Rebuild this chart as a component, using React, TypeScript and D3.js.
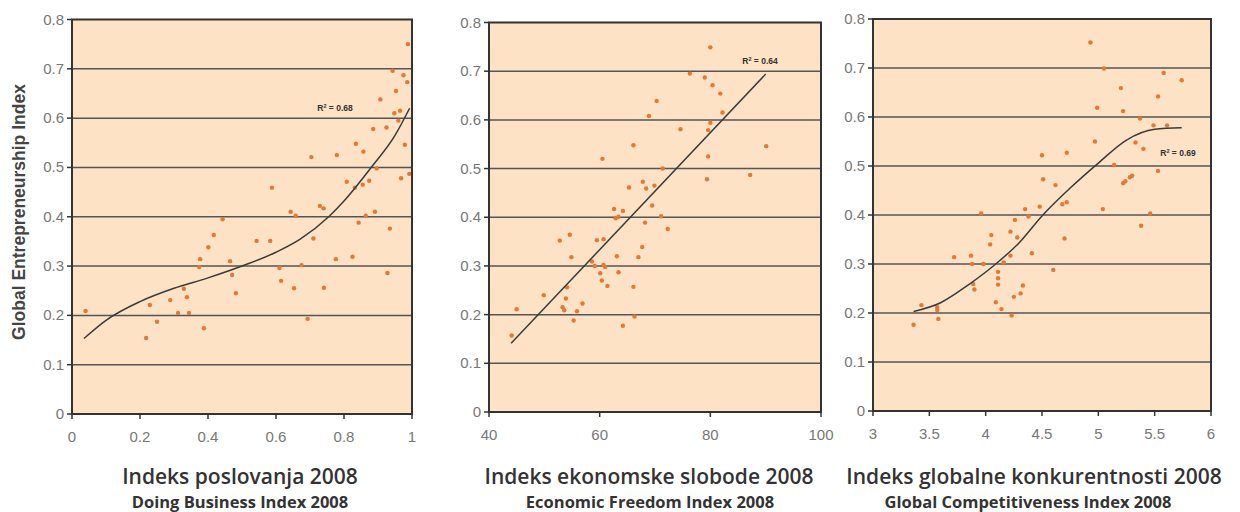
import React from "react";
import * as d3 from "d3";

// ---------- DATA ----------
const yTicks = [0, 0.1, 0.2, 0.3, 0.4, 0.5, 0.6, 0.7, 0.8];

const dbTicks = [0, 0.2, 0.4, 0.6, 0.8, 1];
const dbPoints: [number, number][] = [
  [0.988, 0.75], [0.943, 0.696], [0.975, 0.687], [0.953, 0.655], [0.986, 0.673],
  [0.907, 0.638], [0.965, 0.615], [0.948, 0.61], [0.96, 0.595], [0.886, 0.578],
  [0.925, 0.581], [0.979, 0.546], [0.835, 0.548], [0.857, 0.532], [0.779, 0.525],
  [0.704, 0.521], [0.896, 0.498], [0.968, 0.478], [0.992, 0.487], [0.808, 0.471],
  [0.874, 0.473], [0.832, 0.459], [0.855, 0.465], [0.588, 0.459], [0.729, 0.422],
  [0.74, 0.417], [0.643, 0.41], [0.658, 0.402], [0.891, 0.41], [0.864, 0.402],
  [0.843, 0.388], [0.935, 0.376], [0.443, 0.395], [0.417, 0.363], [0.401, 0.338],
  [0.543, 0.351], [0.583, 0.351], [0.71, 0.356], [0.04, 0.209], [0.218, 0.154],
  [0.229, 0.221], [0.25, 0.187], [0.289, 0.231], [0.312, 0.205], [0.329, 0.254],
  [0.338, 0.237], [0.344, 0.205], [0.374, 0.298], [0.377, 0.314], [0.388, 0.174],
  [0.465, 0.31], [0.471, 0.282], [0.482, 0.245], [0.61, 0.296], [0.615, 0.27],
  [0.653, 0.255], [0.675, 0.302], [0.693, 0.193], [0.741, 0.256], [0.776, 0.314],
  [0.825, 0.319], [0.928, 0.286],
];
const dbTrend: [number, number][] = [
  [0.035, 0.153], [0.1, 0.19], [0.2, 0.228], [0.3, 0.255], [0.4, 0.276],
  [0.5, 0.3], [0.6, 0.328], [0.67, 0.354], [0.755, 0.4], [0.8, 0.432],
  [0.88, 0.5], [0.95, 0.565], [0.993, 0.62],
];

const efTicks = [40, 60, 80, 100];
const efPoints: [number, number][] = [
  [80.0, 0.749], [76.3, 0.695], [79.0, 0.687], [80.4, 0.671], [81.8, 0.654],
  [82.2, 0.615], [70.3, 0.639], [68.9, 0.608], [80.0, 0.594], [79.6, 0.579],
  [74.6, 0.581], [66.1, 0.548], [90.1, 0.546], [60.5, 0.52], [79.6, 0.525],
  [71.4, 0.5], [79.4, 0.478], [87.2, 0.487], [65.3, 0.461], [67.8, 0.473],
  [68.4, 0.459], [69.9, 0.465], [69.5, 0.424], [62.6, 0.417], [64.2, 0.413],
  [62.9, 0.398], [63.4, 0.401], [71.1, 0.402], [68.2, 0.389], [72.3, 0.376],
  [52.8, 0.352], [54.6, 0.364], [59.5, 0.353], [60.7, 0.355], [67.7, 0.339],
  [63.1, 0.32], [67.0, 0.318], [54.9, 0.318], [58.6, 0.309], [59.1, 0.3],
  [60.1, 0.285], [60.4, 0.27], [60.7, 0.302], [61.0, 0.298], [61.4, 0.259],
  [63.4, 0.287], [66.1, 0.257], [66.3, 0.196], [64.2, 0.177], [56.9, 0.223],
  [55.9, 0.207], [55.3, 0.188], [53.9, 0.233], [54.1, 0.256], [53.3, 0.215],
  [53.6, 0.209], [49.9, 0.24], [45.0, 0.211], [44.1, 0.157],
];
const efTrend: [number, number][] = [[44.0, 0.141], [90.0, 0.694]];

const gcTicks = [3, 3.5, 4, 4.5, 5, 5.5, 6];
const gcPoints: [number, number][] = [
  [4.93, 0.752], [5.05, 0.699], [5.58, 0.69], [5.74, 0.675], [5.2, 0.659],
  [5.53, 0.642], [4.99, 0.619], [5.22, 0.612], [5.37, 0.597], [5.49, 0.583],
  [5.61, 0.583], [4.97, 0.55], [5.33, 0.548], [5.4, 0.535], [4.5, 0.522],
  [4.72, 0.527], [5.14, 0.502], [5.53, 0.49], [4.51, 0.473], [4.62, 0.461],
  [5.22, 0.465], [5.24, 0.469], [5.28, 0.477], [5.3, 0.48], [4.68, 0.422],
  [4.72, 0.426], [4.48, 0.417], [4.35, 0.412], [4.38, 0.397], [3.96, 0.403],
  [5.04, 0.412], [5.46, 0.403], [5.38, 0.378], [4.26, 0.39], [4.22, 0.366],
  [4.05, 0.359], [4.28, 0.354], [4.04, 0.34], [4.7, 0.352], [4.41, 0.322],
  [4.22, 0.317], [3.72, 0.314], [3.87, 0.317], [3.88, 0.3], [3.98, 0.3],
  [4.16, 0.303], [4.6, 0.288], [4.11, 0.284], [4.11, 0.271], [4.11, 0.258],
  [3.89, 0.259], [3.9, 0.248], [4.33, 0.256], [4.31, 0.24], [4.25, 0.233],
  [4.09, 0.222], [4.14, 0.208], [4.23, 0.195], [3.43, 0.216], [3.57, 0.212],
  [3.57, 0.206], [3.58, 0.188], [3.36, 0.176],
];
const gcTrend: [number, number][] = [
  [3.36, 0.203], [3.6, 0.221], [3.85, 0.258], [4.1, 0.302], [4.3, 0.344],
  [4.5, 0.398], [4.75, 0.455], [5.0, 0.506], [5.25, 0.553], [5.5, 0.575],
  [5.74, 0.578],
];

const titles = ["Indeks poslovanja 2008", "Indeks ekonomske slobode 2008", "Indeks globalne konkurentnosti 2008"];
const subtitles = ["Doing Business Index 2008", "Economic Freedom Index 2008", "Global Competitiveness Index 2008"];
const r2Labels = ["0.68", "0.64", "0.69"];
const yLabel = "Global Entrepreneurship Index";

// ---------- LAYOUT ----------
type PanelCfg = {
  left: number; right: number; top: number; bottom: number;
  domain: [number, number]; ticks: number[]; points: [number, number][];
  trend: [number, number][]; curved: boolean; r2: [number, number];
  titleX: number; subX: number;
};

const panels: PanelCfg[] = [
  { left: 72, right: 412, top: 19.5, bottom: 414, domain: [0, 1], ticks: dbTicks, points: dbPoints, trend: dbTrend, curved: true, r2: [335, 111], titleX: 240, subX: 240 },
  { left: 489, right: 821, top: 22.5, bottom: 412, domain: [40, 100], ticks: efTicks, points: efPoints, trend: efTrend, curved: false, r2: [760, 64], titleX: 649, subX: 650 },
  { left: 873, right: 1211, top: 19, bottom: 411, domain: [3, 6], ticks: gcTicks, points: gcPoints, trend: gcTrend, curved: true, r2: [1178, 156], titleX: 1034, subX: 1028 },
];

const fmt = (v: number) => (v === 0 ? "0" : String(v));
const titleFont = "'Open Sans', 'Noto Sans', sans-serif";
const axisFont = "Arial, 'Liberation Sans', sans-serif";

function Panel({ cfg, idx }: { cfg: PanelCfg; idx: number }) {
  const x = d3.scaleLinear().domain(cfg.domain).range([cfg.left, cfg.right]);
  const y = d3.scaleLinear().domain([0, 0.8]).range([cfg.bottom, cfg.top]);
  const line = d3
    .line<[number, number]>()
    .x((d) => x(d[0]))
    .y((d) => y(d[1]))
    .curve(cfg.curved ? d3.curveMonotoneX : d3.curveLinear);
  return (
    <g>
      <rect x={cfg.left} y={cfg.top} width={cfg.right - cfg.left} height={cfg.bottom - cfg.top} fill="#fde2c5" />
      {yTicks.filter((t) => t > 0 && t < 0.8).map((t) => (
        <line key={t} x1={cfg.left} x2={cfg.right} y1={y(t)} y2={y(t)} stroke="#555" strokeWidth={1.5} />
      ))}
      {cfg.points.map((p, i) => (
        <circle key={i} cx={x(p[0])} cy={y(p[1])} r={2.2} fill="#e07a36" />
      ))}
      <path d={line(cfg.trend) || ""} fill="none" stroke="#3a3a3a" strokeWidth={1.5} />
      <text x={cfg.r2[0]} y={cfg.r2[1]} textAnchor="middle" fontFamily={axisFont} fontSize={8.5} fontWeight="bold" fill="#333">
        R<tspan dy={-3} fontSize={5.5}>2</tspan><tspan dy={3}> = {r2Labels[idx]}</tspan>
      </text>
      <rect x={cfg.left} y={cfg.top} width={cfg.right - cfg.left} height={cfg.bottom - cfg.top} fill="none" stroke="#333" strokeWidth={2} />
      {yTicks.map((t) => (
        <g key={t}>
          <line x1={cfg.left - 5} x2={cfg.left} y1={y(t)} y2={y(t)} stroke="#333" strokeWidth={1.5} />
          <text x={cfg.left - 8} y={y(t) + 5} textAnchor="end" fontFamily={axisFont} fontSize={15} fill="#777">
            {fmt(t)}
          </text>
        </g>
      ))}
      {cfg.ticks.map((t) => (
        <g key={t}>
          <line x1={x(t)} x2={x(t)} y1={cfg.bottom} y2={cfg.bottom + 5} stroke="#333" strokeWidth={1.5} />
          <text x={x(t)} y={cfg.bottom + 28} textAnchor="middle" fontFamily={axisFont} fontSize={15} fill="#777">
            {fmt(t)}
          </text>
        </g>
      ))}
      <text x={cfg.titleX} y={484} textAnchor="middle" fontFamily={titleFont} fontWeight={600} fontSize={21} fill="#333">
        {titles[idx]}
      </text>
      <text x={cfg.subX} y={508} textAnchor="middle" fontFamily={titleFont} fontWeight="bold" fontSize={16.5} fill="#333">
        {subtitles[idx]}
      </text>
    </g>
  );
}

export default function App() {
  return (
    <svg width={1240} height={512} style={{ position: "absolute", left: 0, top: 0, background: "#fff" }}>
      {panels.map((p, i) => (
        <Panel key={i} cfg={p} idx={i} />
      ))}
      <text
        transform="translate(25,212) rotate(-90)"
        textAnchor="middle"
        fontFamily={axisFont}
        fontWeight="bold"
        fontSize={17.5}
        fill="#444"
      >
        {yLabel}
      </text>
    </svg>
  );
}
